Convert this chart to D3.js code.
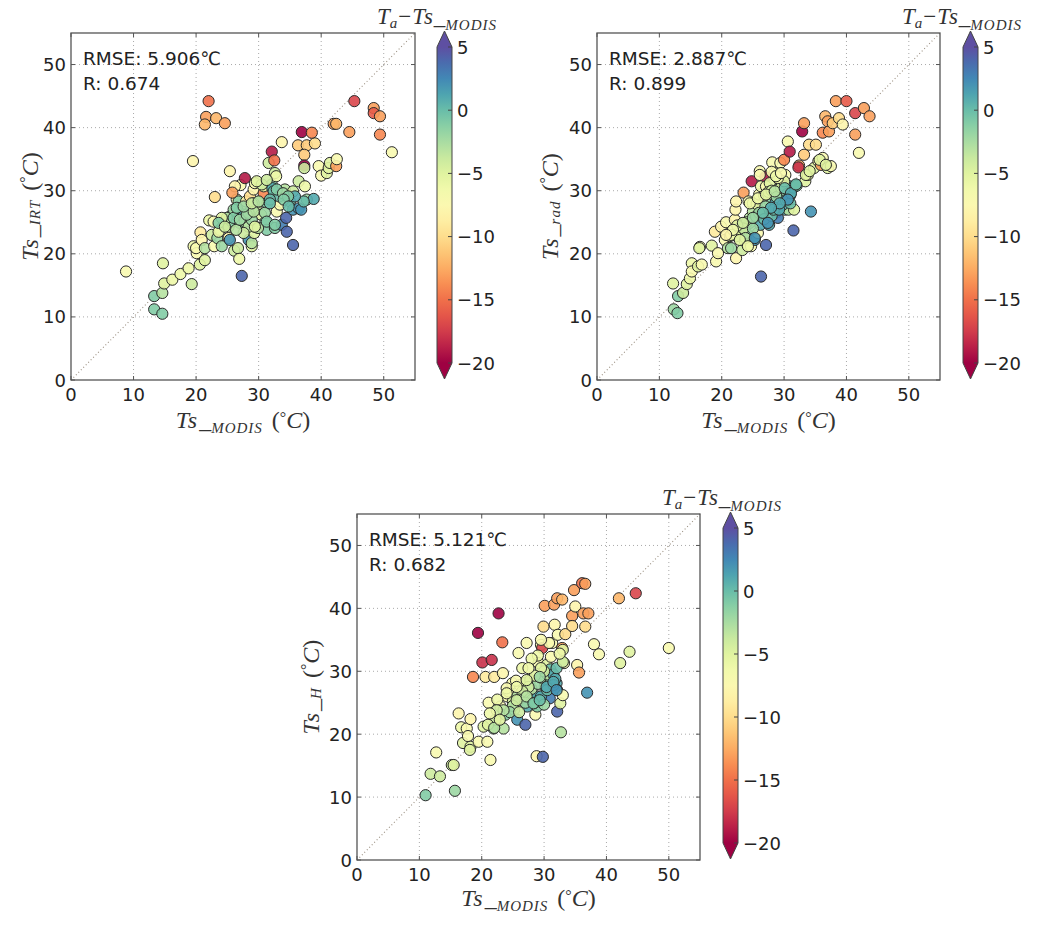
<!DOCTYPE html>
<html><head><meta charset="utf-8">
<script src="https://cdn.jsdelivr.net/npm/d3@7"></script>
<style>body{margin:0;background:#fff}</style>
</head><body><svg id="c" width="1041" height="926"></svg>
<script>
// ---------- data ----------
const axisTicks = [0, 10, 20, 30, 40, 50];
const colorTicks = [5, 0, -5, -10, -15, -20];
const colorTickLabels = ["5", "0", "\u22125", "\u221210", "\u221215", "\u221220"];
const rmseLabels = ["RMSE: 5.906\u2103", "RMSE: 2.887\u2103", "RMSE: 5.121\u2103"];
const rLabels = ["R: 0.674", "R: 0.899", "R: 0.682"];
const ySubscripts = ["IRT", "rad", "H"];

// [Ts_MODIS, Ts_estimate, Ta - Ts_MODIS]
const irtPoints = [
 [8.8,17.2,-7],[13.3,13.3,-1],[13.3,11.2,-1],[14.6,10.5,-1],[14.6,13.8,-3],[14.7,18.5,-5],[14.9,15.3,-5],
 [16.2,15.9,-6],[17.5,16.8,-6],[18.8,17.7,-6],[19.3,15.2,-4],[19.6,21.2,-6],[20.1,20.1,-7],[20.6,18.3,-5],
 [21.4,19.0,-5],[20.0,20.9,-7],[20.7,23.4,-9],[20.9,22.2,-8],[21.4,20.9,-3],[22.1,25.3,-6],[22.8,25.1,-7],
 [22.5,23.0,-4],[22.9,21.2,-7],[23.4,22.5,-2],[23.8,23.8,-3],[24.1,21.2,-2],[24.4,24.6,-5],[25.2,22.5,-8],
 [25.4,22.2,2],[25.2,24.3,-4],[25.4,25.9,-1],[26.0,26.2,-2],[25.7,25.1,-1],[26.1,20.5,-4],[26.7,20.9,-4],
 [26.9,19.2,-6],[27.3,16.5,4],[26.5,28.6,-7],[26.8,28.3,-1],[27.0,27.2,-1],[27.5,25.9,1],[27.0,24.9,-1],
 [27.8,25.1,-3],[28.4,22.2,2],[28.9,21.2,-5],[28.9,21.7,-3],[29.3,23.3,-5],[29.4,24.3,-8],[28.4,24.3,-3],
 [28.1,27.8,-7],[28.0,28.3,-8],[28.6,29.1,-10],[29.2,30.2,-8],[29.4,31.2,-7],[27.1,30.9,-7],[26.2,30.7,-8],
 [27.8,32.0,-19],[25.8,29.7,-13],[23.0,29.0,-10],[25.4,33.1,-8],[19.5,34.7,-8],[29.7,27.0,-4],[30.1,28.3,-1],
 [30.4,26.2,-5],[30.8,29.6,-14],[30.8,30.7,-5],[31.1,25.1,-1],[31.3,23.8,-1],[31.4,28.0,-1],[32.1,31.0,-1],
 [32.2,30.4,1],[32.4,29.9,0],[32.6,32.8,-4],[32.8,32.3,-6],[32.6,24.1,-1],[32.9,26.7,-7],[33.4,27.8,-7],
 [33.3,29.1,0],[33.7,24.6,3],[34.2,30.2,-3],[34.4,25.7,4],[34.5,23.5,4],[35.5,21.4,4],[35.0,28.3,0],
 [35.5,29.9,-4],[35.5,27.0,2],[36.4,27.2,2],[36.8,27.0,2],[36.4,31.5,-4],[37.4,30.7,-6],[37.7,28.6,-2],
 [38.8,28.7,1],[37.2,28.3,0],[35.8,29.1,1],[30.5,31.0,-4],[29.7,31.5,-5],[31.3,31.7,-4],[29.2,28.0,-3],
 [31.0,26.5,-2],[31.8,28.6,0],[32.9,30.2,-1],[33.9,29.6,-2],[34.7,29.1,-1],[27.6,23.3,-4],[26.4,23.8,-3],
 [28.9,25.4,-2],[29.9,24.1,-3],[28.4,26.5,-3],[26.0,27.0,-2],[24.9,25.7,-3],[24.1,25.7,-5],[23.6,23.5,-6],
 [23.6,24.9,-1],[24.6,24.3,-4],[26.0,25.7,-1],[27.0,25.4,-2],[28.1,26.2,-2],[29.2,26.7,-3],[29.4,24.3,-5],
 [31.3,25.1,-1],[32.6,24.6,-1],[26.5,27.3,-1],[27.6,27.5,-2],[28.9,28.0,-4],[30.0,28.3,-3],[31.8,28.0,0],
 [34.0,28.6,-1],[34.8,27.5,0],
 [31.6,34.4,-4],[32.1,36.2,-19],[32.5,34.8,-15],[33.7,37.7,-8],[36.3,37.2,-11],[37.7,37.2,-11],[39.0,37.5,-10],
 [37.3,35.7,-11],[36.9,39.3,-20],[38.5,39.2,-14],[37.3,34.0,-20],[37.3,33.6,-4],[39.6,33.9,-7],[40.0,32.4,-7],
 [40.9,32.8,-5],[41.2,33.6,-5],[41.4,34.4,-5],[42.4,33.9,-13],[42.5,35.0,-7],[42.0,40.6,-13],[42.4,40.6,-12],
 [44.5,39.3,-13],[45.3,44.2,-17],[48.4,43.1,-13],[48.4,42.3,-16],[49.4,41.8,-13],[49.4,38.9,-14],[51.3,36.1,-7],
 [22.0,44.2,-15],[21.6,41.7,-13],[21.4,40.5,-12],[23.2,41.5,-12],[24.6,40.7,-13]
];

const radPoints = [
 [12.2,15.3,-5],[12.3,11.2,-2],[12.9,10.6,-1],[13.0,13.3,-1],[13.8,13.8,-4],[14.4,15.2,-5],[14.9,16.1,-6],
 [15.2,18.5,-6],[15.2,17.2,-7],[16.2,18.0,-5],[16.5,21.1,-7],[16.4,20.9,-5],[16.8,18.3,-7],[18.4,21.3,-5],
 [18.9,23.5,-9],[19.1,18.8,-7],[19.4,20.1,-7],[19.9,24.3,-8],[20.5,22.2,-7],[20.7,25.0,-7],[21.0,20.9,-3],
 [21.3,22.8,-5],[21.5,20.9,-2],[22.1,25.4,-8],[22.2,27.0,-8],[22.3,28.3,-8],[22.3,19.3,-8],[22.4,22.8,-4],
 [22.9,23.8,-5],[23.1,24.3,-1],[23.3,20.6,-4],[23.5,29.7,-13],[23.7,22.0,-7],[23.9,23.3,-1],[24.2,21.4,-4],
 [24.3,28.3,-7],[24.5,24.9,-1],[24.5,25.7,-3],[24.7,21.2,-7],[24.8,31.5,-19],[25.0,28.0,-6],[25.0,26.7,-3],
 [25.3,22.2,2],[25.5,25.9,-1],[25.6,27.9,-5],[25.8,23.3,-7],[26.0,29.4,-7],[26.1,33.1,-7],[26.2,24.6,1],
 [26.3,16.4,4],[26.3,30.7,-6],[26.6,26.5,0],[27.0,32.2,-19],[27.1,21.4,4],[27.1,30.7,-7],[27.4,28.6,-1],
 [27.6,24.6,1],[27.7,31.2,-5],[27.9,27.2,-1],[28.1,34.5,-7],[28.2,29.4,-3],[28.5,32.8,-7],[28.6,28.0,1],
 [28.7,26.5,2],[29.0,25.7,3],[29.0,30.2,-3],[29.3,31.7,-6],[29.4,34.4,-7],[29.5,28.6,1],[29.8,29.6,0],
 [30.1,27.0,1],[30.2,32.5,-7],[30.0,34.9,-14],[30.6,37.8,-7],[30.9,36.2,-19],[30.7,28.6,2],[30.9,30.7,1],
 [30.7,27.0,-3],[31.6,27.0,-5],[31.5,23.7,4],[31.9,30.8,1],[32.4,34.0,-13],[32.3,33.7,-18],[32.9,39.4,-20],
 [33.2,40.7,-13],[33.2,35.7,-11],[33.4,31.5,-5],[34.0,37.3,-10],[33.8,32.5,-6],[34.3,26.7,2],[34.8,33.6,-5],
 [35.1,37.3,-10],[35.5,34.7,-7],[35.9,34.1,-13],[36.2,35.2,-7],[36.2,39.2,-14],[36.6,41.8,-12],[37.0,41.0,-13],
 [37.2,39.4,-13],[37.0,33.6,-5],[37.5,33.9,-7],[37.8,40.7,-11],[38.3,44.2,-13],[38.8,41.5,-10],[39.4,40.5,-8],
 [40.0,44.2,-16],[41.4,38.9,-13],[41.4,42.3,-17],[42.0,36.0,-7],[42.8,43.1,-13],[43.7,41.8,-13],
 [26.8,29.2,-5],[27.5,29.8,-6],[28.0,30.0,-4],[28.8,29.0,-2],[29.5,30.5,-4],[30.5,29.5,-2],[31.0,29.3,0],
 [31.5,30.5,1],[32.0,30.8,-1],[29.8,27.8,1],[30.3,28.5,1],[27.0,27.5,-2],[26.0,26.5,-2],[24.0,25.0,-3],
 [23.5,24.0,-4],[25.0,24.0,-2],[26.8,25.5,0],[28.0,26.0,0],[28.3,27.0,0],[29.2,27.0,1],[31.0,28.0,0],
 [30.0,31.5,-5],[29.0,32.0,-6],[28.0,33.0,-7],[22.5,24.5,-5],[21.5,23.0,-6],[23.8,22.5,-3],
 [35.7,34.9,-5],[36.7,34.1,-5],[33.5,32.5,-5],[34.1,33.1,-5],[27.4,24.9,2],[25.3,22.5,2],
 [24.5,28.0,-6],[25.8,28.8,-6],[27.1,29.4,-5],[28.5,29.9,-3],[30.1,30.4,0],[31.1,29.6,1],[31.9,31.0,0],
 [30.6,28.6,2],[29.3,28.0,1],[27.9,27.3,1],[26.6,26.5,0],[25.0,25.7,-2],[23.4,24.9,-4],[21.8,23.8,-6],
 [20.7,23.0,-8],[22.9,22.2,-5],[24.2,21.2,-6],[26.1,32.5,-7],[28.7,32.3,-6],[29.5,32.8,-7]
];

const hPoints = [
 [11.0,10.3,-1],[11.8,13.7,-4],[13.3,13.3,-4],[12.7,17.1,-7],[15.2,15.1,-4],[15.5,15.1,-5],[15.7,11.0,-2],
 [16.3,23.3,-8],[16.7,21.1,-6],[17.0,18.6,-5],[17.6,20.9,-7],[17.8,19.7,-7],[18.2,22.4,-8],[18.2,18.0,-5],
 [18.1,17.5,-5],[18.6,29.1,-14],[19.4,36.1,-20],[19.5,18.8,-7],[20.1,31.4,-18],[20.3,21.2,-5],[20.6,29.1,-9],
 [20.9,18.8,-7],[21.1,25.0,-7],[21.4,15.9,-7],[21.6,31.8,-18],[21.9,20.9,-2],[22.0,29.1,-9],[22.2,22.3,-4],
 [22.7,39.2,-20],[23.0,24.4,-7],[23.3,34.6,-15],[23.4,29.7,-8],[23.5,20.9,-3],[23.8,23.1,-1],[24.1,26.0,-7],
 [24.3,26.8,-8],[24.9,28.1,-7],[25.0,25.2,-4],[25.2,23.9,-2],[25.7,22.3,2],[25.7,26.0,-3],[25.9,32.9,-7],
 [26.1,27.8,-8],[26.5,30.5,-6],[26.7,28.1,-6],[27.0,21.5,4],[27.2,34.5,-7],[27.3,24.4,1],[27.4,26.5,-3],
 [27.8,28.6,-5],[28.1,25.5,-1],[28.6,23.1,-7],[28.8,16.5,-8],[28.9,26.0,1],[28.9,24.4,-1],[29.1,31.3,-7],
 [29.5,34.2,-7],[29.7,33.7,-17],[29.8,16.4,4],[29.9,37.1,-10],[30.1,40.4,-13],[30.1,27.6,0],[30.4,31.0,-5],
 [30.7,28.6,-1],[30.9,25.7,3],[31.1,32.3,-7],[31.3,34.5,-7],[31.6,40.6,-13],[31.7,37.4,-8],[32.0,28.1,1],
 [32.1,23.6,4],[32.1,27.0,2],[32.1,41.6,-13],[32.2,35.8,-7],[32.6,24.9,-5],[32.7,20.3,-3],[32.9,41.4,-12],
 [32.9,33.7,-13],[33.0,33.4,-5],[33.2,31.3,-7],[33.0,26.2,-7],[33.4,35.9,-10],[34.8,42.9,-13],[34.5,38.8,-13],
 [34.5,37.2,-10],[35.0,40.3,-8],[35.3,31.0,-8],[35.6,29.8,-13],[36.1,44.0,-15],[36.6,43.9,-13],[36.3,39.2,-13],
 [36.6,37.1,-10],[37.1,39.2,-13],[36.9,26.6,2],[38.0,34.3,-7],[38.8,32.7,-7],[42.0,41.6,-12],[42.2,31.3,-5],
 [43.7,33.1,-5],[44.7,42.4,-17],[50.0,33.7,-7],
 [28.0,27.2,-3],[29.0,28.0,-2],[29.5,29.0,-3],[30.5,29.5,-3],[31.0,30.3,0],[31.5,29.5,1],[31.8,28.8,1],
 [30.0,30.0,-4],[29.5,30.5,-5],[28.5,29.3,-5],[27.5,27.5,-4],[26.5,26.8,-4],[26.0,25.5,-3],[25.0,24.5,-3],
 [24.5,23.5,-2],[23.5,23.8,-3],[27.0,25.0,-2],[28.5,25.0,0],[29.5,26.0,1],[30.5,27.0,0],[31.5,27.8,2],
 [30.0,24.7,-2],[26.0,23.5,-4],[24.0,27.3,-7],[25.5,28.5,-7],[22.5,25.5,-6],[21.0,21.5,-5],[22.0,21.0,-3],
 [32.0,30.5,0],[33.0,31.5,-4],[32.5,32.8,-6],[29.0,32.5,-6],[28.0,32.0,-6],[27.5,30.5,-6],[30.8,34.5,-7],
 [29.5,35.0,-7],
 [24.0,26.5,-6],[25.6,25.4,-4],[27.2,26.0,-3],[28.3,24.9,-1],[29.3,25.4,0],[30.4,27.5,1],[31.5,28.3,1],
 [32.0,27.0,2],[29.3,29.1,-2],[27.2,28.6,-5],[25.6,27.5,-6],[22.4,23.8,-4],[22.9,22.3,-5],[21.3,23.3,-6]
];

// ---------- layout ----------
const panels = [
  {pts: irtPoints, L: 71,  T: 33,  R: 415, B: 380, cbX: 437, cbTop: 47,  cbBot: 363, ylx: 30,  xlb: 428, titleR: 497, titleY: 24},
  {pts: radPoints, L: 597, T: 33,  R: 940, B: 380, cbX: 963, cbTop: 47,  cbBot: 363, ylx: 550, xlb: 428, titleR: 1022, titleY: 24},
  {pts: hPoints,   L: 357, T: 514, R: 700, B: 860, cbX: 723, cbTop: 528, cbBot: 843, ylx: 311, xlb: 906, titleR: 782, titleY: 505}
];

const svg = d3.select("#c");
const color = d3.scaleSequential(d3.interpolateSpectral).domain([-20, 5]);
const sansFont = "'DejaVu Sans', sans-serif";
const serifFont = "'Liberation Serif', 'DejaVu Serif', serif";

const defs = svg.append("defs");
const grad = defs.append("linearGradient").attr("id", "cbgrad")
  .attr("x1", 0).attr("y1", 1).attr("x2", 0).attr("y2", 0);
d3.range(0, 1.0001, 0.05).forEach(t => {
  grad.append("stop").attr("offset", t).attr("stop-color", d3.interpolateSpectral(t));
});

function mathLabel(g, parts) {
  parts.forEach(p => {
    const ts = g.append("tspan").text(p.t);
    if (p.i) ts.attr("font-style", "italic");
    if (p.s) ts.attr("font-size", p.s);
    if (p.dy) ts.attr("dy", p.dy);
    if (p.dx) ts.attr("dx", p.dx);
    if (p.ls) ts.attr("letter-spacing", p.ls);
  });
}

function axisLabelParts(sub) {
  return [{t: "Ts", i: 1, ls: 1}, {t: "_", dx: 1}, {t: sub, i: 1, s: 15, dy: 5, ls: 1}, {t: " (", dy: -5, dx: 3},
          {t: "\u00b0", s: 16, dy: -5}, {t: "C", i: 1, dy: 5}, {t: ")"}];
}

panels.forEach((p, i) => {
  const x = d3.scaleLinear().domain([0, 55]).range([p.L, p.R]);
  const y = d3.scaleLinear().domain([0, 55]).range([p.B, p.T]);
  const g = svg.append("g");

  axisTicks.forEach(v => {
    if (v > 0) {
      g.append("line").attr("x1", x(v)).attr("x2", x(v)).attr("y1", p.T).attr("y2", p.B)
        .attr("stroke", "#aaa").attr("stroke-width", 1).attr("stroke-dasharray", "1,3");
      g.append("line").attr("y1", y(v)).attr("y2", y(v)).attr("x1", p.L).attr("x2", p.R)
        .attr("stroke", "#aaa").attr("stroke-width", 1).attr("stroke-dasharray", "1,3");
    }
  });
  g.append("line").attr("x1", x(0)).attr("y1", y(0)).attr("x2", x(55)).attr("y2", y(55))
    .attr("stroke", "#9a8f80").attr("stroke-width", 1.1).attr("stroke-dasharray", "1,2.5");

  g.append("g").selectAll("circle").data(p.pts).join("circle")
    .attr("cx", d => x(d[0])).attr("cy", d => y(d[1])).attr("r", 5.6)
    .attr("fill", d => color(d[2])).attr("fill-opacity", 0.9)
    .attr("stroke", "#2a2a2a").attr("stroke-width", 1);

  g.append("rect").attr("x", p.L).attr("y", p.T).attr("width", p.R - p.L).attr("height", p.B - p.T)
    .attr("fill", "none").attr("stroke", "#555").attr("stroke-width", 1.3);

  axisTicks.forEach(v => {
    [[x(v), p.B, x(v), p.B - 4], [x(v), p.T, x(v), p.T + 4], [p.L, y(v), p.L + 4, y(v)], [p.R, y(v), p.R - 4, y(v)]]
      .forEach(c => g.append("line").attr("x1", c[0]).attr("y1", c[1]).attr("x2", c[2]).attr("y2", c[3])
        .attr("stroke", "#555").attr("stroke-width", 1));
    g.append("text").attr("x", x(v)).attr("y", p.B + 21).attr("text-anchor", "middle")
      .attr("font-family", sansFont).attr("font-size", 18).attr("fill", "#222").text(v);
    g.append("text").attr("x", p.L - 5).attr("y", y(v)).attr("text-anchor", "end")
      .attr("dominant-baseline", "central")
      .attr("font-family", sansFont).attr("font-size", 18).attr("fill", "#222").text(v);
  });

  g.append("text").attr("x", p.L + 12).attr("y", p.T + 32).attr("font-family", sansFont)
    .attr("font-size", 18.5).attr("fill", "#222").text(rmseLabels[i]);
  g.append("text").attr("x", p.L + 12).attr("y", p.T + 57).attr("font-family", sansFont)
    .attr("font-size", 18.5).attr("fill", "#222").text(rLabels[i]);

  const xl = g.append("text").attr("x", (p.L + p.R) / 2).attr("y", p.xlb).attr("text-anchor", "middle")
    .attr("font-family", serifFont).attr("font-size", 24).attr("fill", "#333");
  mathLabel(xl, axisLabelParts("MODIS"));

  const yc = (p.T + p.B) / 2;
  const yl = g.append("text").attr("transform", `translate(${p.ylx},${yc}) rotate(-90)`)
    .attr("text-anchor", "middle").attr("dominant-baseline", "central")
    .attr("font-family", serifFont).attr("font-size", 24).attr("fill", "#333");
  mathLabel(yl, axisLabelParts(ySubscripts[i]));

  const cw = 15;
  const cy = d3.scaleLinear().domain([-20, 5]).range([p.cbBot, p.cbTop]);
  const tip = 16;
  g.append("rect").attr("x", p.cbX).attr("y", cy(5)).attr("width", cw).attr("height", cy(-20) - cy(5))
    .attr("fill", "url(#cbgrad)");
  g.append("path").attr("d", `M${p.cbX},${cy(5)} L${p.cbX + cw / 2},${cy(5) - tip} L${p.cbX + cw},${cy(5)} Z`)
    .attr("fill", color(5));
  g.append("path").attr("d", `M${p.cbX},${cy(-20)} L${p.cbX + cw / 2},${cy(-20) + tip} L${p.cbX + cw},${cy(-20)} Z`)
    .attr("fill", color(-20));
  g.append("path").attr("d", `M${p.cbX},${cy(5)} L${p.cbX + cw / 2},${cy(5) - tip} L${p.cbX + cw},${cy(5)} L${p.cbX + cw},${cy(-20)} L${p.cbX + cw / 2},${cy(-20) + tip} L${p.cbX},${cy(-20)} Z`)
    .attr("fill", "none").attr("stroke", "#444").attr("stroke-width", 1);
  colorTicks.forEach((v, k) => {
    g.append("line").attr("x1", p.cbX + cw - 4).attr("x2", p.cbX + cw).attr("y1", cy(v)).attr("y2", cy(v))
      .attr("stroke", "#444").attr("stroke-width", 1);
    g.append("text").attr("x", p.cbX + cw + 5).attr("y", cy(v)).attr("dominant-baseline", "central")
      .attr("font-family", sansFont).attr("font-size", 18).attr("fill", "#222").text(colorTickLabels[k]);
  });
  const ct = g.append("text").attr("x", p.titleR).attr("y", p.titleY).attr("text-anchor", "end")
    .attr("font-family", serifFont).attr("font-size", 23).attr("fill", "#333");
  mathLabel(ct, [{t: "T", i: 1}, {t: "a", i: 1, s: 15, dy: 4}, {t: "\u2212", dy: -4, dx: 1}, {t: "Ts", i: 1, ls: 1, dx: 1},
                 {t: "_"}, {t: "MODIS", i: 1, s: 15, dy: 6, ls: 1}]);
});
</script></body></html>
